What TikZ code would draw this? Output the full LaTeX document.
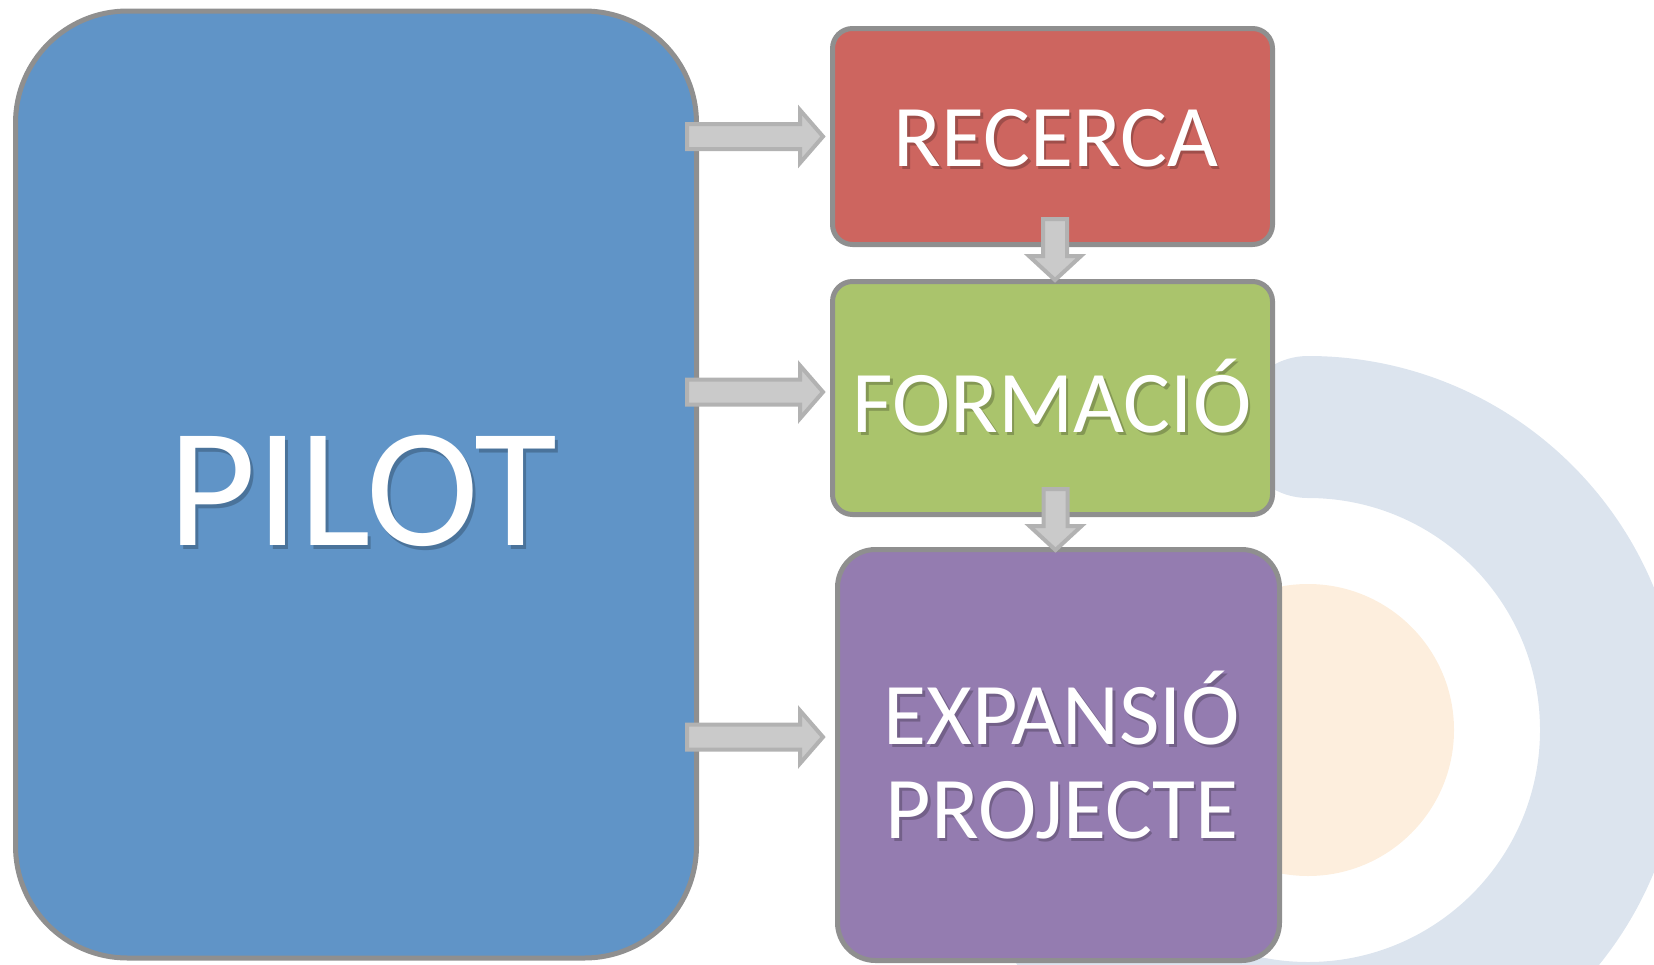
\documentclass[tikz,border=0pt]{standalone}
\usepackage{fontspec}
\setmainfont{Carlito}
\usetikzlibrary{calc}

\definecolor{pilotblue}{HTML}{6094C7}
\definecolor{recercared}{HTML}{CD655F}
\definecolor{formaciogreen}{HTML}{AAC46C}
\definecolor{expansiopurple}{HTML}{947CB0}
\definecolor{boxgray}{HTML}{8F8F8F}
\definecolor{arrowfill}{HTML}{CACACA}
\definecolor{arrowgray}{HTML}{B2B2B2}
\definecolor{ringblue}{HTML}{DCE4EE}
\definecolor{ringorange}{HTML}{FDEEDD}

% block arrows: #1 start of the shaft, #2 tip
\newcommand{\harrow}[2]{\draw[blockarrow] ($(#1)+(0,-12.5)$) -- ($(#2)+(-23,-12.5)$) -- ($(#2)+(-23,-26.5)$) -- (#2) -- ($(#2)+(-23,26.5)$) -- ($(#2)+(-23,12.5)$) -- ($(#1)+(0,12.5)$) -- cycle;}
\newcommand{\varrow}[2]{\draw[blockarrow] ($(#1)+(-12,0)$) -- ($(#2)+(-12,-24)$) -- ($(#2)+(-26,-24)$) -- (#2) -- ($(#2)+(26,-24)$) -- ($(#2)+(12,-24)$) -- ($(#1)+(12,0)$) -- cycle;}

\begin{document}
\begin{tikzpicture}[x=1pt, y=-1pt,
    box/.style={draw=boxgray, line width=5pt, outer sep=0pt, inner sep=0pt},
    lbl/.style={text=white, anchor=base, inner sep=0pt, font=\fontsize{88}{94}\selectfont},
    shade/.style={lbl, text=black, opacity=0.22},
    blockarrow/.style={draw=arrowgray, fill=arrowfill, line width=4pt}]
    \useasboundingbox (0,0) rectangle (1654,964);
    % background rings
    \begin{scope}
        \clip (0,0) rectangle (1654,964);
        \fill[ringorange] (1308,730) circle[radius=146];
        \draw[ringblue, line width=142pt, line cap=round] (1308,427) arc[start angle=270, end angle=500, radius=303];
    \end{scope}
    % boxes
    \node[box, fill=pilotblue, rounded corners=112pt, minimum width=681pt, minimum height=947pt] (pilot) at (356,484.5) {};
    \node[box, fill=recercared, rounded corners=20pt, minimum width=440pt, minimum height=216pt] (recerca) at (1052.5,136.5) {};
    \node[box, fill=formaciogreen, rounded corners=20pt, minimum width=440pt, minimum height=233pt] (formacio) at (1052.5,398) {};
    \node[box, fill=expansiopurple, rounded corners=38pt, minimum width=442pt, minimum height=411pt] (expansio) at (1058.5,755) {};
    % texts
    \node[shade, font=\fontsize{170}{170}\selectfont] (pilotsh) at (366,549) {PILOT};
    \node[lbl, font=\fontsize{170}{170}\selectfont] (pilottxt) at (363,545) {PILOT};
    \node[shade] (recercash) at (1058.5,169) {RECERCA};
    \node[lbl] (recercatxt) at (1056,166) {RECERCA};
    \node[shade] (formaciosh) at (1054.5,435) {FORMACIÓ};
    \node[lbl] (formaciotxt) at (1052,432) {FORMACIÓ};
    \node[shade] (expansiosh) at (1064.5,747) {EXPANSIÓ};
    \node[lbl] (expansiotxt) at (1062,744) {EXPANSIÓ};
    \node[shade] (projectesh) at (1064.5,841) {PROJECTE};
    \node[lbl] (projectetxt) at (1062,838) {PROJECTE};
    % arrows
    \coordinate (h1s) at ($(pilot.east |- recerca.west)+(-9.5,0)$);
    \coordinate (h1t) at ($(recerca.west)+(-9.5,0)$);
    \coordinate (h2s) at (687,392);
    \coordinate (h2t) at ($(formacio.west |- h2s)+(-9.5,0)$);
    \coordinate (h3s) at (687,737);
    \coordinate (h3t) at ($(expansio.west |- h3s)+(-14.5,0)$);
    \harrow{h1s}{h1t}
    \harrow{h2s}{h2t}
    \harrow{h3s}{h3t}
    \coordinate (v1s) at ($(recerca.south)+(2.5,-25.5)$);
    \coordinate (v1t) at ($(formacio.north)+(2.5,-1.5)$);
    \coordinate (v2s) at ($(formacio.south)+(3,-25.5)$);
    \coordinate (v2t) at ($(expansio.north)+(-3,0.5)$);
    \varrow{v1s}{v1t}
    \varrow{v2s}{v2t}
\end{tikzpicture}
\end{document}
